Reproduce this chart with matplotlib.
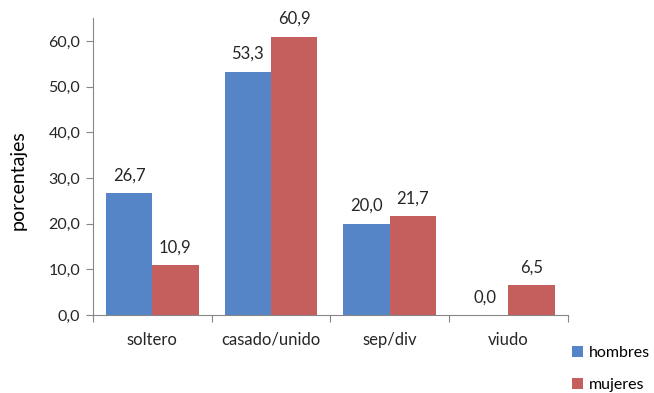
import matplotlib.pyplot as plt
import numpy as np

plt.rcParams['font.family'] = ['Lato', 'DejaVu Sans']

categorias = ['soltero', 'casado/unido', 'sep/div', 'viudo']
hombres = [26.7, 53.3, 20.0, 0.0]
mujeres = [10.9, 60.9, 21.7, 6.5]

azul = '#5585C6'
rojo = '#C55F5E'
gris = '#868686'
texto = '#262626'

fig = plt.figure(figsize=(6.54, 3.93), dpi=100)
ax = fig.add_axes([0.142, 0.198, 0.726, 0.756])

x = np.arange(len(categorias))
ancho = 0.39
b1 = ax.bar(x - ancho / 2, hombres, ancho, color=azul, label='hombres')
b2 = ax.bar(x + ancho / 2, mujeres, ancho, color=rojo, label='mujeres')

# etiquetas de valor con coma decimal
for barras in (b1, b2):
    for b in barras:
        v = b.get_height()
        ax.annotate(f'{v:.1f}'.replace('.', ','),
                    (b.get_x() + b.get_width() / 2, v),
                    xytext=(0, 7), textcoords='offset points',
                    ha='center', va='bottom', fontsize=12, color=texto)

ax.set_xlim(-0.5, len(categorias) - 0.5)
ax.set_ylim(0, 65)
ax.set_yticks(np.arange(0, 61, 10))
ax.set_yticklabels([f'{t:.1f}'.replace('.', ',') for t in np.arange(0, 61, 10)])
ax.set_xticks(np.arange(-0.5, len(categorias), 1), minor=False)
ax.set_xticklabels([])
ax.set_xticks(x, minor=True)
ax.set_xticklabels(categorias, minor=True)
ax.tick_params(axis='x', which='minor', length=0, pad=12, labelsize=12, colors=texto)
ax.tick_params(axis='x', which='major', length=5, color=gris)
ax.tick_params(axis='y', length=5, color=gris, labelsize=11.5, labelcolor=texto, pad=4)

for s in ('top', 'right'):
    ax.spines[s].set_visible(False)
for s in ('left', 'bottom'):
    ax.spines[s].set_color(gris)

ax.set_ylabel('porcentajes', fontsize=14, color='#000000')
ax.yaxis.set_label_coords(-0.140, 0.455)

fig.legend(loc='upper left', bbox_to_anchor=(0.865, 0.137), frameon=False,
           fontsize=11.5, handlelength=0.7, handleheight=0.7, handletextpad=0.35,
           labelspacing=1.15, borderaxespad=0)

fig.savefig('out.png', dpi=100)
